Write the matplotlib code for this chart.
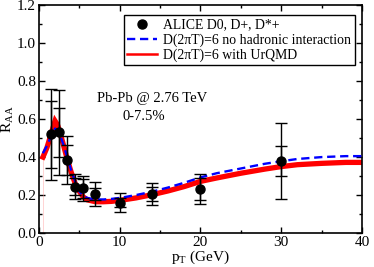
import matplotlib
matplotlib.use("Agg")
import matplotlib.pyplot as plt
from matplotlib.lines import Line2D
import numpy as np

plt.rcParams['font.family'] = ['Liberation Serif', 'DejaVu Serif']
plt.rcParams['mathtext.fontset'] = 'custom'
plt.rcParams['mathtext.rm'] = 'Liberation Serif'
plt.rcParams['mathtext.it'] = 'Liberation Serif:italic'

# ALICE data
pt_data = [1.5, 2.5, 3.5, 4.5, 5.5, 7, 10, 14, 20, 30]
raa_data = [0.52, 0.53, 0.385, 0.245, 0.235, 0.205, 0.16, 0.205, 0.232, 0.38]
err_inner = [0.175, 0.13, 0.08, 0.045, 0.05, 0.03, 0.025, 0.035, 0.06, 0.08]
err_outer = [0.24, 0.225, 0.125, 0.065, 0.068, 0.065, 0.05, 0.058, 0.077, 0.2]

# no hadronic interaction (blue dashed)
pt_blue = [0.5, 1, 1.5, 2, 2.5, 3, 3.5, 4, 4.5, 5, 5.5, 6, 7, 8, 9, 10, 12, 14, 16, 18, 20, 22, 25, 28, 30, 32, 35, 38, 40]
raa_blue = [0.42, 0.46, 0.51, 0.55, 0.53, 0.47, 0.40, 0.33, 0.27, 0.22, 0.195, 0.185, 0.177, 0.177, 0.18, 0.185,
            0.2, 0.218, 0.24, 0.265, 0.293, 0.315, 0.34, 0.365, 0.378, 0.39, 0.4, 0.405, 0.405]

# with UrQMD (red)
pt_red = [0.5, 1, 1.5, 2, 2.3, 2.5, 3, 3.5, 4, 4.5, 5, 5.5, 6, 7, 8, 9, 10, 12, 14, 16, 18, 20, 22, 25, 28, 30, 32, 35, 38, 40]
raa_red = [0.40, 0.45, 0.52, 0.59, 0.57, 0.545, 0.47, 0.39, 0.32, 0.26, 0.22, 0.19, 0.175, 0.165, 0.165, 0.167, 0.172,
           0.185, 0.202, 0.222, 0.245, 0.272, 0.29, 0.315, 0.337, 0.35, 0.36, 0.367, 0.372, 0.372]

fig = plt.figure(figsize=(3.74, 2.67), dpi=100)
ax = fig.add_axes([0.104, 0.127, 0.864, 0.854])

ax.plot([0.45, 0.45], [0.0, 0.40], color='#ff9999', lw=0.6, alpha=0.5)
ax.plot(pt_red, raa_red, color='red', lw=3.8, solid_joinstyle='miter', zorder=2)
ax.plot(pt_blue, raa_blue, color='blue', lw=1.7, dashes=(3.5, 2.0), zorder=3)

ax.errorbar(pt_data, raa_data, yerr=err_outer, fmt='none', ecolor='black', elinewidth=1.0,
            capsize=4.5, capthick=1.0, zorder=4)
ax.errorbar(pt_data, raa_data, yerr=err_inner, fmt='none', ecolor='black', elinewidth=1.0,
            capsize=4.5, capthick=1.0, zorder=4)
ax.plot(pt_data, raa_data, 'o', color='black', ms=6.5, zorder=5)

ax.set_xlim(0, 40)
ax.set_ylim(0, 1.2)
ax.set_xticks([0, 10, 20, 30, 40])
ax.set_xticks([5, 15, 25, 35], minor=True)
ax.set_yticks(np.arange(0, 1.21, 0.2))
ax.set_yticks(np.arange(0.1, 1.2, 0.2), minor=True)
ax.set_yticklabels(['%.1f' % v for v in np.arange(0, 1.21, 0.2)])
ax.tick_params(which='both', direction='in', top=True, right=True, labelsize=11, width=1.0)
ax.tick_params(which='major', length=4.3, pad=2)
ax.tick_params(which='minor', length=2.4)
for s in ax.spines.values():
    s.set_linewidth(1.2)

ax.set_xlabel(r'p$_\mathrm{T}$ (GeV)', fontsize=11, labelpad=0)
ax.set_ylabel(r'R$_\mathrm{AA}$', fontsize=11, labelpad=1)

ax.text(7.2, 0.71, 'Pb-Pb @ 2.76 TeV', fontsize=10.5, va='center', ha='left')
ax.text(10.4, 0.616, '0-7.5%', fontsize=10.5, va='center', ha='left')

handles = [Line2D([], [], marker='o', color='black', ls='none', ms=6.5),
           Line2D([], [], color='blue', lw=1.7, dashes=(3.5, 2.0)),
           Line2D([], [], color='red', lw=1.8)]
labels = ['ALICE D0, D+, D*+', 'D(2πT)=6 no hadronic interaction', 'D(2πT)=6 with UrQMD']
leg = ax.legend(handles, labels, loc='upper right', bbox_to_anchor=(0.978, 0.956), fontsize=9.9,
                frameon=True, fancybox=False, edgecolor='black', framealpha=1, borderpad=0.25,
                handlelength=2.2, handletextpad=0.45, labelspacing=0.12, borderaxespad=0)
leg.get_frame().set_linewidth(1.0)

fig.savefig('out.png', dpi=100)
